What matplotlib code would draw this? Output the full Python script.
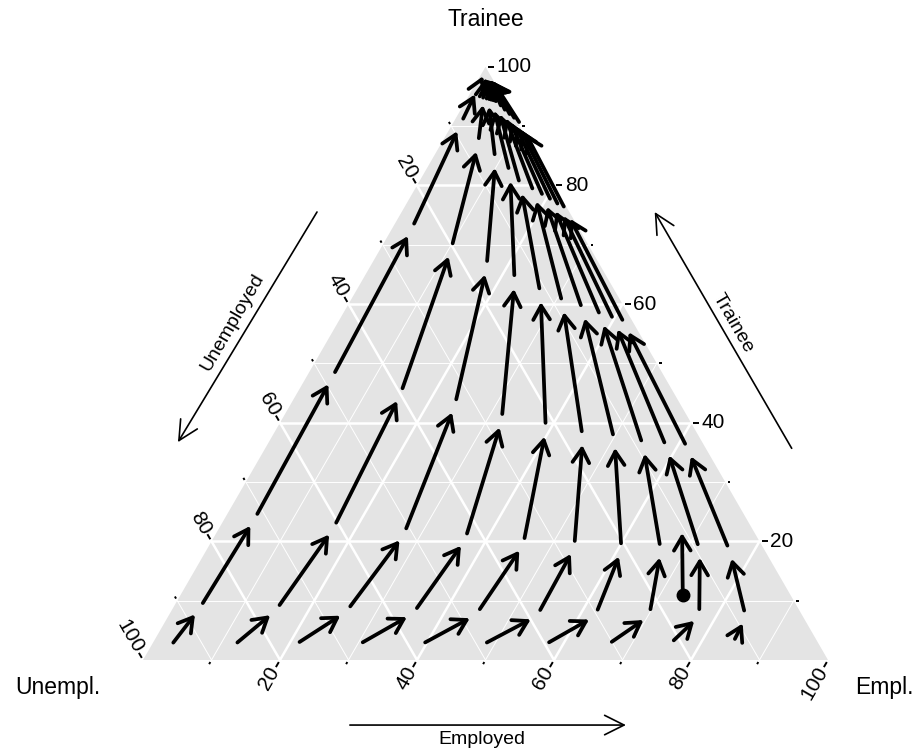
import numpy as np
import matplotlib.pyplot as plt
from matplotlib.patches import Polygon, FancyArrowPatch

plt.rcParams['font.family'] = ['Liberation Sans', 'DejaVu Sans']

# trajectories: Employed % and Trainee % at each step
emp_a = [2.8, 3.9, 4.4, 3.8, 2.9, 1.2, 0.7, 0.3]
tra_a = [2.0, 8.6, 23.6, 47.5, 72.5, 90.2, 96.4, 99.5]
emp_b = [11.9, 15.2, 16.7, 15.2, 10.4, 5.5, 2.4, 0.5]
tra_b = [2.2, 8.3, 22.1, 44.7, 69.1, 86.8, 94.7, 99.3]
emp_c = [20.8, 25.6, 27.5, 24.1, 17.1, 9.4, 3.2, 0.6]
tra_c = [2.4, 8.1, 21.1, 42.8, 66.1, 84.1, 94.4, 99.2]
emp_d = [30.0, 35.5, 36.9, 32.2, 22.4, 12.7, 4.2, 0.7]
tra_d = [2.4, 7.8, 20.2, 40.3, 63.7, 81.8, 93.7, 99.1]
emp_e = [39.1, 44.8, 45.8, 39.4, 27.3, 15.3, 5.3, 0.8]
tra_e = [2.4, 7.6, 19.4, 38.8, 61.5, 79.7, 93.1, 99.0]
emp_f = [48.1, 53.8, 53.5, 45.5, 31.4, 18.0, 6.4, 0.9]
tra_f = [2.4, 7.4, 18.9, 37.4, 59.8, 78.4, 92.4, 98.9]
emp_g = [57.2, 62.3, 60.6, 50.4, 34.9, 19.9, 7.4, 1.0]
tra_g = [2.4, 7.4, 18.5, 36.9, 58.7, 77.5, 91.7, 98.8]
emp_h = [66.4, 70.2, 66.4, 55.1, 38.2, 21.5, 8.5, 1.1]
tra_h = [2.4, 7.4, 18.4, 35.9, 57.5, 76.7, 91.0, 98.7]
emp_i = [75.5, 77.5, 72.1, 58.7, 40.5, 23.0, 9.5, 1.2]
tra_i = [2.5, 7.4, 18.4, 35.6, 56.8, 75.9, 90.4, 98.6]
emp_j = [84.7, 84.4, 76.6, 61.9, 42.3, 24.2, 10.6, 1.3]
tra_j = [2.5, 7.2, 18.2, 35.4, 56.3, 75.4, 89.7, 98.5]

# single observed step (point + arrow)
obs_emp = [73.3, 68.0]
obs_tra = [11.0, 21.4]

major = [20, 40, 60, 80, 100]
minor = [10, 30, 50, 70, 90]
vertex_labels = ['Unempl.', 'Trainee', 'Empl.']
axis_titles = ['Unemployed', 'Trainee', 'Employed']

trajs = [(emp_a, tra_a), (emp_b, tra_b), (emp_c, tra_c), (emp_d, tra_d),
         (emp_e, tra_e), (emp_f, tra_f), (emp_g, tra_g), (emp_h, tra_h),
         (emp_i, tra_i), (emp_j, tra_j)]

s3 = np.sqrt(3) / 2


def xy(e, t):
    e = np.asarray(e, float)
    t = np.asarray(t, float)
    return e + t / 2, t * s3


fig = plt.figure(figsize=(9.23, 7.53), dpi=100)
ax = fig.add_axes([0, 0, 1, 1])
ax.set_xlim(-20.88, 113.87)
ax.set_ylim(-13.58, 96.35)
ax.axis('off')

ax.add_patch(Polygon([(0, 0), (100, 0), (50, 100 * s3)], closed=True,
                     facecolor='#E4E4E4', edgecolor='none', zorder=0))

# grid
for v in range(10, 100, 10):
    lw = 1.8 if v % 20 == 0 else 0.7
    ax.plot(*xy([0, 100 - v], [v, v]), color='white', lw=lw, zorder=1)
    ax.plot(*xy([v, v], [0, 100 - v]), color='white', lw=lw, zorder=1)
    ax.plot(*xy([100 - v, 0], [0, 100 - v]), color='white', lw=lw, zorder=1)

# ticks and labels
dirT = np.array([1.0, 0.0])
dirE = np.array([-0.5, -s3])
dirU = np.array([-0.5, s3])
for v in major + minor:
    ln = 1.2 if v in major else 0.7
    pT = np.array(xy(100 - v, v))
    pE = np.array(xy(v, 0))
    pU = np.array(xy(0, 100 - v))
    for p, d in [(pT, dirT), (pE, dirE), (pU, dirU)]:
        a = p + 0.35 * d
        b = p + ln * d
        ax.plot([a[0], b[0]], [a[1], b[1]], color='black', lw=1.4,
                solid_capstyle='butt', zorder=3)
    if v in major:
        q = pT + 1.6 * dirT
        ax.text(q[0], q[1], str(v), ha='left', va='center', fontsize=15)
        q = pE + 1.4 * dirE
        ax.text(q[0], q[1], str(v), ha='right', va='center', fontsize=15,
                rotation=60, rotation_mode='anchor')
        q = pU + 1.4 * dirU
        ax.text(q[0], q[1], str(v), ha='right', va='center', fontsize=15,
                rotation=-60, rotation_mode='anchor')

# vertex labels
ax.text(-12.5, -4.0, vertex_labels[0], ha='center', va='center', fontsize=16.5)
ax.text(50.0, 93.5, vertex_labels[1], ha='center', va='center', fontsize=16.5)
ax.text(108.3, -4.0, vertex_labels[2], ha='center', va='center', fontsize=16.5)

# axis direction arrows
akw = dict(arrowstyle='->,head_length=0.7,head_width=0.35', color='black',
           lw=1.2, mutation_scale=20, shrinkA=0, shrinkB=0)
ax.add_patch(FancyArrowPatch((30.2, -9.5), (70.5, -9.5), **akw))
ax.text(49.5, -10.4, axis_titles[2], ha='center', va='top', fontsize=14)
ax.add_patch(FancyArrowPatch((94.7, 30.9), (74.7, 65.4), **akw))
ax.text(86.1, 49.2, axis_titles[1], ha='center', va='center', fontsize=14,
        rotation=-60, rotation_mode='anchor')
ax.add_patch(FancyArrowPatch((25.4, 65.4), (5.1, 31.8), **akw))
ax.text(13.1, 49.3, axis_titles[0], ha='center', va='center', fontsize=14,
        rotation=60, rotation_mode='anchor')

# trajectories
style = '->,head_length=0.5,head_width=0.3'
for emp, tra in trajs:
    xs, ys = xy(emp, tra)
    for k in range(len(xs) - 1):
        ax.add_patch(FancyArrowPatch((xs[k], ys[k]), (xs[k + 1], ys[k + 1]),
                                     arrowstyle=style, mutation_scale=20,
                                     color='black', lw=2.7, shrinkA=5, shrinkB=5,
                                     zorder=4))

ox, oy = xy(obs_emp, obs_tra)
ax.add_patch(FancyArrowPatch((ox[0], oy[0]), (ox[1], oy[1]), arrowstyle=style,
                             mutation_scale=20, color='black', lw=2.7,
                             shrinkA=0, shrinkB=0, zorder=4))
ax.plot(ox[0], oy[0], 'o', color='black', ms=9, zorder=5)

fig.savefig('out.png', dpi=100)
